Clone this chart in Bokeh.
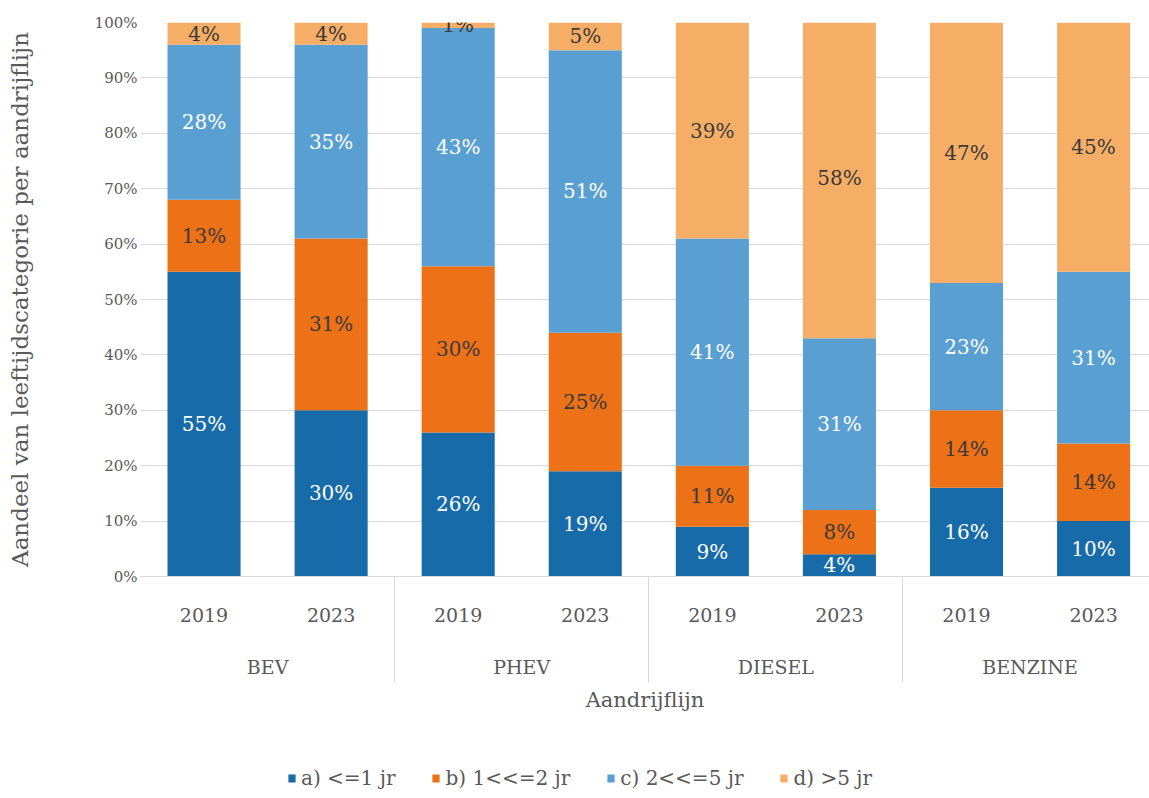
from bokeh.plotting import figure
from bokeh.layouts import column
from bokeh.models import (Range1d, FixedTicker, LinearAxis, Legend, LegendItem,
                          ColumnDataSource, NumeralTickFormatter)
from bokeh.embed import file_html
from bokeh.resources import INLINE
from bokeh.core.properties import value

# ---------------- data ----------------
groups = ["BEV", "PHEV", "DIESEL", "BENZINE"]
years = ["2019", "2023"]
series = ["a) <=1 jr", "b) 1<<=2 jr", "c) 2<<=5 jr", "d) >5 jr"]
a_vals = [55, 30, 26, 19, 9, 4, 16, 10]
b_vals = [13, 31, 30, 25, 11, 8, 14, 14]
c_vals = [28, 35, 43, 51, 41, 31, 23, 31]
d_vals = [4, 4, 1, 5, 39, 58, 47, 45]
y_ticks = [0, 0.1, 0.2, 0.3, 0.4, 0.5, 0.6, 0.7, 0.8, 0.9, 1.0]

colors = ["#176ba8", "#ed7117", "#5a9fd2", "#f6ae67"]
label_colors = ["#ffffff", "#3a3a3a", "#ffffff", "#3a3a3a"]
FONT = "DejaVu Serif"
GREY = "#595959"

# ---------------- derived ----------------
cats = [(g, y) for g in groups for y in years]
xs = list(range(len(cats)))
vals = [a_vals, b_vals, c_vals, d_vals]
keys = ["a", "b", "c", "d"]
data = dict(x=xs)
for k, v in zip(keys, vals):
    data[k] = [t / 100 for t in v]
src = ColumnDataSource(data)

p = figure(width=1149, height=740, output_backend="svg", toolbar_location=None,
           x_range=Range1d(-0.5, 7.44), y_range=Range1d(0, 1),
           x_axis_location=None, min_border_left=140, min_border_right=0,
           min_border_top=22, min_border_bottom=164)
p.outline_line_color = None
p.background_fill_color = "white"
p.border_fill_color = "white"

rends = p.vbar_stack(keys, x="x", width=0.575, source=src, color=colors,
                     line_color=None)

# data labels
for i, (k, v) in enumerate(zip(keys, vals)):
    mids, txt = [], []
    for j in range(len(xs)):
        base = sum(vals[m][j] for m in range(i)) / 100
        mids.append(base + v[j] / 200)
        txt.append(f"{v[j]}%")
    ls = ColumnDataSource(dict(x=xs, y=mids, t=txt))
    p.text(x="x", y="y", text="t", source=ls, text_align="center",
           text_baseline="middle", text_font=value(FONT),
           text_font_size="20px", text_color=label_colors[i])

# grid / y axis
p.ygrid.ticker = FixedTicker(ticks=y_ticks)
p.ygrid.grid_line_color = "#d9d9d9"
p.xgrid.visible = False
ya = p.yaxis[0]
ya.ticker = FixedTicker(ticks=y_ticks)
ya.formatter = NumeralTickFormatter(format="0%")
ya.axis_line_color = None
ya.major_tick_line_color = None
ya.minor_tick_line_color = None
ya.major_label_standoff = -3
ya.major_label_text_font = FONT
ya.major_label_text_font_size = "15px"
ya.major_label_text_color = GREY
ya.axis_label = "Aandeel van leeftijdscategorie per aandrijflijn"
ya.axis_label_text_font = FONT
ya.axis_label_text_font_size = "23px"
ya.axis_label_text_font_style = "normal"
ya.axis_label_text_color = GREY
ya.axis_label_standoff = 59

# x axis: years (with group separators as minor ticks)
group_centers = [sum(xs[2 * g:2 * g + 2]) / 2 for g in range(len(groups))]
separators = [(xs[2 * g + 1] + xs[2 * g + 2]) / 2 for g in range(len(groups) - 1)]
axA = LinearAxis(ticker=FixedTicker(ticks=xs, minor_ticks=separators),
                 major_label_overrides={x: c[1] for x, c in zip(xs, cats)})
axA.major_tick_line_color = None
axA.major_tick_out = 0
axA.major_tick_in = 0
axA.minor_tick_in = 0
axA.minor_tick_out = 106
axA.minor_tick_line_color = "#d9d9d9"
axA.axis_line_color = "#d9d9d9"
axA.major_label_standoff = -75
axA.major_label_text_font = FONT
axA.major_label_text_font_size = "19px"
axA.major_label_text_color = GREY
p.add_layout(axA, "below")

axB = LinearAxis(ticker=FixedTicker(ticks=group_centers),
                 major_label_overrides={x: g for x, g in zip(group_centers, groups)})
axB.major_tick_line_color = None
axB.minor_tick_line_color = None
axB.major_tick_out = 0
axB.major_tick_in = 0
axB.axis_line_color = None
axB.major_label_standoff = 31
axB.major_label_text_font = FONT
axB.major_label_text_font_size = "19px"
axB.major_label_text_color = GREY
axB.axis_label = "Aandrijflijn"
axB.axis_label_text_font = FONT
axB.axis_label_text_font_size = "21px"
axB.axis_label_text_font_style = "normal"
axB.axis_label_text_color = GREY
axB.axis_label_standoff = 7
p.add_layout(axB, "below")

# legend strip (its own small figure under the chart)
pl = figure(width=1149, height=58, output_backend="svg", toolbar_location=None,
            x_axis_location=None, y_axis_location=None, min_border=0,
            x_range=Range1d(-0.5, 7.44), y_range=Range1d(0, 1))
pl.outline_line_color = None
pl.xgrid.visible = False
pl.ygrid.visible = False
lrends = pl.vbar_stack(keys, x="x", width=0.575, source=src, color=colors,
                       line_color=None)
for r in lrends:
    r.visible = False
legend = Legend(items=[LegendItem(label=s, renderers=[r]) for s, r in zip(series, lrends)],
                orientation="horizontal", location=(147, 8))
legend.click_policy = "none"
legend.margin = 0
legend.padding = 0
legend.border_line_color = None
legend.background_fill_alpha = 0
legend.glyph_width = 9
legend.glyph_height = 10
legend.label_height = 20
legend.label_standoff = 5
legend.spacing = 36
legend.label_text_font = FONT
legend.label_text_font_size = "20px"
legend.label_text_color = GREY
legend.inactive_fill_alpha = 0
pl.add_layout(legend, "center")

open("out.html", "w").write(file_html(column(p, pl), INLINE))
